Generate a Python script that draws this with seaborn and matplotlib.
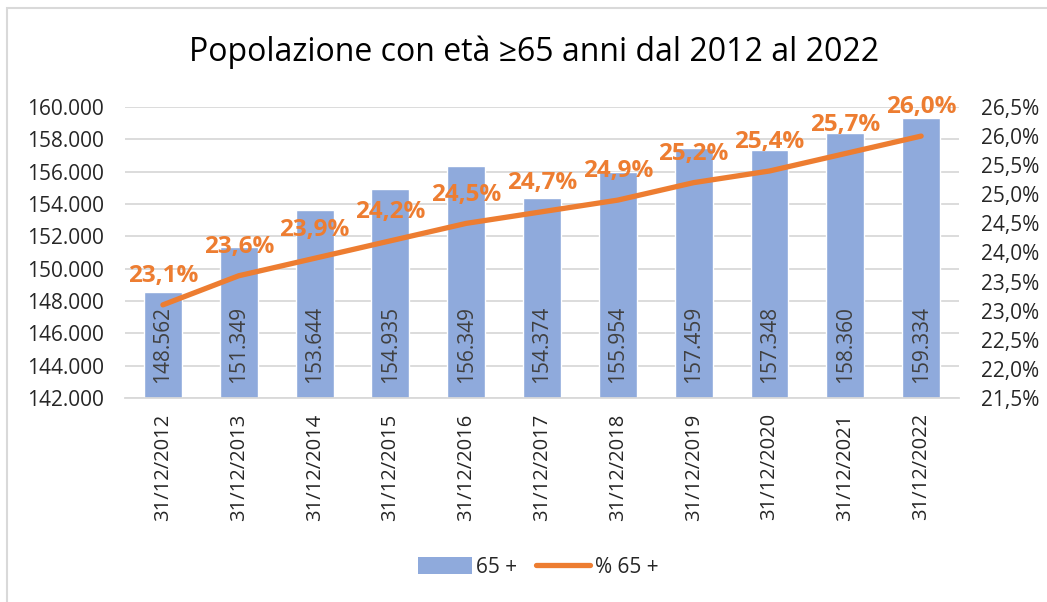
import matplotlib
matplotlib.use("Agg")
import matplotlib.pyplot as plt
import matplotlib.ticker as mticker
from matplotlib.patches import Patch, Rectangle
from matplotlib.lines import Line2D
import seaborn as sns
import pandas as pd

dates = ["31/12/2012", "31/12/2013", "31/12/2014", "31/12/2015", "31/12/2016", "31/12/2017",
         "31/12/2018", "31/12/2019", "31/12/2020", "31/12/2021", "31/12/2022"]
pop_65 = [148562, 151349, 153644, 154935, 156349, 154374, 155954, 157459, 157348, 158360, 159334]
pct_65 = [23.1, 23.6, 23.9, 24.2, 24.5, 24.7, 24.9, 25.2, 25.4, 25.7, 26.0]

BAR_COLOR = "#8FAADC"
LINE_COLOR = "#ED7D31"
GRID_COLOR = "#D9D9D9"

sns.set_style("white")
plt.rcParams["font.family"] = ["Open Sans", "DejaVu Sans"]

df = pd.DataFrame({"data": dates, "pop": pop_65, "pct": pct_65, "pos": range(len(dates))})

fig = plt.figure(figsize=(10.47, 6.02), dpi=100)
ax = fig.add_axes([0.1194, 0.3389, 0.7966, 0.4834])

# bars on the left axis
sns.barplot(data=df, x="data", y="pop", color=BAR_COLOR, saturation=1, width=0.5, ax=ax, zorder=2)
ax.set_ylim(142000, 160000)
ax.set_xlim(-0.5, len(dates) - 0.5)
ax.set_yticks(range(142000, 160001, 2000))
ax.yaxis.set_major_formatter(mticker.FuncFormatter(lambda v, p: f"{int(v):,}".replace(",", ".")))
ax.grid(axis="y", color=GRID_COLOR, linewidth=1.3, zorder=0)
ax.set_axisbelow(True)
ax.tick_params(axis="y", length=0, pad=15, labelsize=15)
ax.tick_params(axis="x", length=0, pad=11, labelsize=14.5, rotation=90)
ax.set_xlabel("")
ax.set_ylabel("")
for s in ax.spines.values():
    s.set_visible(False)
ax.spines["bottom"].set_visible(True)
ax.spines["bottom"].set_color(GRID_COLOR)
ax.spines["bottom"].set_linewidth(1.3)

for i, v in enumerate(pop_65):
    ax.annotate(f"{v:,}".replace(",", "."), (i, 142000), xytext=(0, 11), textcoords="offset points",
                rotation=90, ha="center", va="bottom", fontsize=15, color="#404040", zorder=4)

# percentage line on the right axis
ax2 = ax.twinx()
sns.lineplot(data=df, x="pos", y="pct", color=LINE_COLOR, linewidth=3.8, ax=ax2, zorder=3)
ax2.set_ylim(21.5, 26.5)
ax2.set_yticks([21.5 + 0.5 * k for k in range(11)])
ax2.yaxis.set_major_formatter(mticker.FuncFormatter(lambda v, p: f"{v:.1f}%".replace(".", ",")))
ax2.tick_params(axis="y", length=0, pad=16, labelsize=15)
ax2.set_xlim(-0.5, len(dates) - 0.5)
ax2.set_ylabel("")
ax2.set_xlabel("")
for s in ax2.spines.values():
    s.set_visible(False)

for i, v in enumerate(pct_65):
    ax2.annotate(f"{v:.1f}%".replace(".", ","), (i, v), xytext=(0, 12), textcoords="offset points",
                 ha="center", va="bottom", fontsize=17.5, fontweight="bold", color=LINE_COLOR)

fig.text(0.51, 0.913, "Popolazione con età ≥65 anni dal 2012 al 2022", ha="center", va="center",
         fontsize=23, color="#000000")

handles = [Patch(facecolor=BAR_COLOR, edgecolor="none"),
           Line2D([0], [0], color=LINE_COLOR, linewidth=3.8, solid_capstyle="round")]
fig.legend(handles, ["65 +", "% 65 +"], loc="center", bbox_to_anchor=(0.514, 0.058), ncol=2,
           frameon=False, fontsize=15, handlelength=2.6, handleheight=0.9, handletextpad=0.2,
           columnspacing=0.9)

fig.patches.append(Rectangle((7 / 1047, -0.1), 1.2, 1.1 - 8 / 602, transform=fig.transFigure,
                             fill=False, edgecolor=GRID_COLOR, linewidth=1.5))

fig.savefig("out.png", dpi=100)
